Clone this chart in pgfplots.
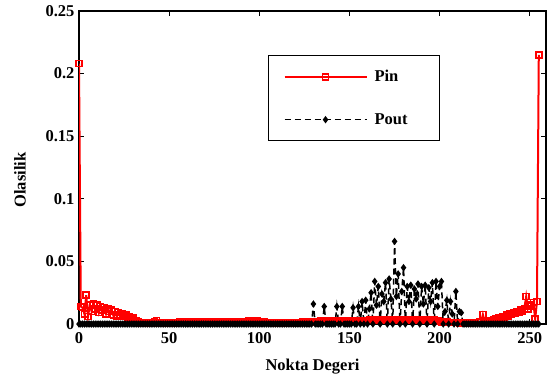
\documentclass[border=0pt]{standalone}
\usepackage{pgfplots}
\pgfplotsset{compat=1.18}
\usepackage{fontspec}
\setmainfont{Liberation Serif}
\begin{document}
\begin{tikzpicture}[x=1pt,y=1pt]
\useasboundingbox (0,0) rectangle (548,376);
\begin{axis}[
  at={(79pt,52pt)}, anchor=south west,
  width=467pt, height=313pt, scale only axis,
  xmin=0, xmax=259, ymin=0, ymax=0.25,
  xtick={0,50,100,150,200,250}, xticklabels={0,50,100,150,200,250},
  ytick={0,0.05,0.1,0.15,0.2,0.25}, yticklabels={0,0.05,0.1,0.15,0.2,0.25},
  tick align=inside, xtick pos=both, ytick pos=both,
  major tick length=5pt,
  every tick/.style={black, line width=0.8pt},
  axis line style={line width=1.1pt},
  tick label style={font=\fontsize{16.5}{19}\selectfont\bfseries},
  label style={font=\fontsize{16.5}{19}\selectfont\bfseries},
  xticklabel style={yshift=-5pt},
  yticklabel style={xshift=-1pt},
  xlabel={Nokta Degeri}, ylabel={Olasilik},
  xlabel style={at={(rel axis cs:0.5,0)}, anchor=north, yshift=-32pt},
  ylabel style={at={(rel axis cs:0,0.46)}, anchor=center, yshift=59pt},
  legend image code/.code={\draw[mark repeat=2,mark phase=2,#1] plot coordinates {(0pt,0pt) (41pt,0pt) (82pt,0pt)};},
  legend style={at={(rel axis cs:0.405,0.859)}, anchor=north west, draw=black, line width=0.8pt,
    font=\fontsize{16.5}{19}\selectfont\bfseries, inner xsep=15pt, inner ysep=13pt, row sep=26pt},
  legend cell align=left,
]
\addplot[red, line width=2pt, mark=square, mark size=3pt, mark options={solid, line width=1.5pt}] coordinates {
(0,0.208)(1,0.014)(2,0.013)(3,0.008)(4,0.023)(5,0.006)(6,0.015)(7,0.010)(8,0.016)(9,0.012)
(10,0.015)(11,0.009)(12,0.014)(13,0.011)(14,0.013)(15,0.008)(16,0.012)(17,0.010)(18,0.011)(19,0.007)
(20,0.010)(21,0.006)(22,0.009)(23,0.007)(24,0.008)(25,0.006)(26,0.007)(27,0.005)(28,0.006)(29,0.004)
(30,0.005)(31,0.003)(32,0.003)(33,0.002)(34,0.001)(35,0.0005)(36,0.0008)(37,0.0006)(38,0.001)(39,0.0005)
(40,0.001)(41,0.0008)(42,0.002)(43,0.003)(44,0.001)(45,0.0008)(46,0.0006)(47,0.0008)(48,0.0005)(49,0.0007)
(50,0.0008)(51,0.0006)(52,0.001)(53,0.0009)(54,0.0012)(55,0.0014)(56,0.0016)(57,0.0013)(58,0.0017)(59,0.0015)
(60,0.0012)(61,0.0016)(62,0.0014)(63,0.0015)(64,0.0017)(65,0.0013)(66,0.0015)(67,0.0016)(68,0.0012)(69,0.0014)
(70,0.0016)(71,0.0015)(72,0.0013)(73,0.0017)(74,0.0014)(75,0.0016)(76,0.0015)(77,0.0018)(78,0.0014)(79,0.0016)
(80,0.0017)(81,0.0015)(82,0.0018)(83,0.0016)(84,0.0019)(85,0.0017)(86,0.0018)(87,0.0016)(88,0.0020)(89,0.0018)
(90,0.0021)(91,0.0019)(92,0.0022)(93,0.0020)(94,0.0023)(95,0.0021)(96,0.0024)(97,0.0022)(98,0.0020)(99,0.0023)
(100,0.0019)(101,0.0018)(102,0.0016)(103,0.0015)(104,0.0013)(105,0.0012)(106,0.0011)(107,0.0012)(108,0.0010)(109,0.0011)
(110,0.0009)(111,0.0010)(112,0.0008)(113,0.0009)(114,0.0008)(115,0.0010)(116,0.0009)(117,0.0008)(118,0.0010)(119,0.0009)
(120,0.0011)(121,0.0010)(122,0.0012)(123,0.0013)(124,0.0015)(125,0.0017)(126,0.0018)(127,0.0016)(128,0.0017)(129,0.0015)
(130,0.0018)(131,0.0020)(132,0.0022)(133,0.0019)(134,0.0023)(135,0.0021)(136,0.0024)(137,0.0022)(138,0.0025)(139,0.0023)
(140,0.0026)(141,0.0022)(142,0.0025)(143,0.0024)(144,0.0027)(145,0.0023)(146,0.0026)(147,0.0025)(148,0.0028)(149,0.0024)
(150,0.0027)(151,0.0025)(152,0.0028)(153,0.0026)(154,0.0029)(155,0.0025)(156,0.0028)(157,0.0027)(158,0.0030)(159,0.0026)
(160,0.0029)(161,0.0031)(162,0.0028)(163,0.0032)(164,0.0030)(165,0.0033)(166,0.0029)(167,0.0034)(168,0.0031)(169,0.0033)
(170,0.0030)(171,0.0034)(172,0.0031)(173,0.0035)(174,0.0032)(175,0.0034)(176,0.0030)(177,0.0033)(178,0.0031)(179,0.0034)
(180,0.0030)(181,0.0033)(182,0.0029)(183,0.0032)(184,0.0030)(185,0.0033)(186,0.0031)(187,0.0034)(188,0.0030)(189,0.0033)
(190,0.0031)(191,0.0034)(192,0.0030)(193,0.0035)(194,0.0032)(195,0.0036)(196,0.0031)(197,0.0034)(198,0.0030)(199,0.0028)
(200,0.0022)(201,0.0018)(202,0.0016)(203,0.0014)(204,0.0015)(205,0.0013)(206,0.0014)(207,0.0012)(208,0.0013)(209,0.0011)
(210,0.0012)(211,0.0010)(212,0.0011)(213,0.0009)(214,0.0010)(215,0.0011)(216,0.0012)(217,0.0010)(218,0.0013)(219,0.0011)
(220,0.0014)(221,0.0012)(222,0.0015)(223,0.0013)(224,0.0075)(225,0.0020)(226,0.0025)(227,0.0022)(228,0.0030)(229,0.0027)
(230,0.0035)(231,0.0040)(232,0.0036)(233,0.0050)(234,0.0045)(235,0.0060)(236,0.0055)(237,0.0070)(238,0.0064)(239,0.0080)
(240,0.0074)(241,0.0090)(242,0.0083)(243,0.0100)(244,0.0092)(245,0.0110)(246,0.0105)(247,0.0125)(248,0.0220)(249,0.0120)
(250,0.0140)(251,0.0150)(252,0.0170)(253,0.0040)(254,0.0180)(255,0.2150)
};
\addlegendentry{\makebox[52.5pt][l]{\hspace*{5pt}Pin}}
\addplot[black, line width=1.5pt, dash pattern=on 6pt off 4pt, mark=diamond*, mark size=2.5pt, mark options={solid}] coordinates {
(0,0)(1,0)(2,0)(3,0)(4,0)(5,0)(6,0)(7,0)(8,0)(9,0)
(10,0)(11,0)(12,0)(13,0)(14,0)(15,0)(16,0)(17,0)(18,0)(19,0)
(20,0)(21,0)(22,0)(23,0)(24,0)(25,0)(26,0)(27,0)(28,0)(29,0)
(30,0)(31,0)(32,0)(33,0)(34,0)(35,0)(36,0)(37,0)(38,0)(39,0)
(40,0)(41,0)(42,0)(43,0)(44,0)(45,0)(46,0)(47,0)(48,0)(49,0)
(50,0)(51,0)(52,0)(53,0)(54,0)(55,0)(56,0)(57,0)(58,0)(59,0)
(60,0)(61,0)(62,0)(63,0)(64,0)(65,0)(66,0)(67,0)(68,0)(69,0)
(70,0)(71,0)(72,0)(73,0)(74,0)(75,0)(76,0)(77,0)(78,0)(79,0)
(80,0)(81,0)(82,0)(83,0)(84,0)(85,0)(86,0)(87,0)(88,0)(89,0)
(90,0)(91,0)(92,0)(93,0)(94,0)(95,0)(96,0)(97,0)(98,0)(99,0)
(100,0)(101,0)(102,0)(103,0)(104,0)(105,0)(106,0)(107,0)(108,0)(109,0)
(110,0)(111,0)(112,0)(113,0)(114,0)(115,0)(116,0)(117,0)(118,0)(119,0)
(120,0)(121,0)(122,0)(123,0)(124,0)(125,0)(126,0)(127,0)(128,0)(129,0)
(130,0.016)(131,0)(132,0)(133,0)(134,0)(135,0)(136,0.014)(137,0)(138,0)(139,0)
(140,0)(141,0)(142,0)(143,0.014)(144,0)(145,0)(146,0.014)(147,0)(148,0)(149,0)
(150,0)(151,0)(152,0.013)(153,0)(154,0)(155,0.014)(156,0)(157,0.018)(158,0)(159,0.019)
(160,0)(161,0.012)(162,0.025)(163,0)(164,0.034)(165,0.015)(166,0.030)(167,0)(168,0.024)(169,0.018)
(170,0.033)(171,0)(172,0.036)(173,0.020)(174,0)(175,0.066)(176,0.022)(177,0.040)(178,0)(179,0.026)
(180,0.045)(181,0)(182,0.030)(183,0.018)(184,0.031)(185,0)(186,0.028)(187,0.020)(188,0.032)(189,0)
(190,0.030)(191,0.016)(192,0.031)(193,0)(194,0.029)(195,0.018)(196,0.033)(197,0)(198,0.034)(199,0.014)
(200,0.030)(201,0.034)(202,0)(203,0.010)(204,0.019)(205,0)(206,0.018)(207,0.008)(208,0)(209,0.026)
(210,0)(211,0.010)(212,0.009)(213,0)(214,0)(215,0)(216,0)(217,0)(218,0)(219,0)
(220,0)(221,0)(222,0)(223,0)(224,0)(225,0)(226,0)(227,0)(228,0)(229,0)
(230,0)(231,0)(232,0)(233,0)(234,0)(235,0)(236,0)(237,0)(238,0)(239,0)
(240,0)(241,0)(242,0)(243,0)(244,0)(245,0)(246,0)(247,0)(248,0)(249,0)
(250,0)(251,0)(252,0)(253,0)(254,0)(255,0)
};
\addlegendentry{\makebox[52.5pt][l]{\hspace*{5pt}Pout}}
\end{axis}
\end{tikzpicture}
\end{document}
